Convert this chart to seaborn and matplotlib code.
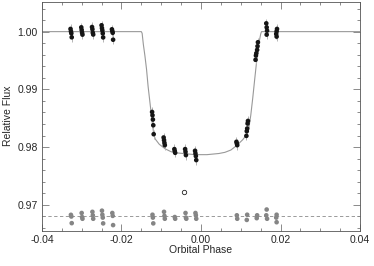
import matplotlib
matplotlib.use("Agg")
import matplotlib.pyplot as plt
import pandas as pd
import seaborn as sns
from matplotlib.ticker import MultipleLocator

# Light curve points (orbital phase, relative flux)
phase = [
    -0.0328, -0.0327, -0.0326, -0.0325,
    -0.0301, -0.0300, -0.0299, -0.0298,
    -0.0274, -0.0273, -0.0272, -0.0271,
    -0.0250, -0.0249, -0.0248, -0.0247, -0.0246,
    -0.0224, -0.0223, -0.0222, -0.0221,
    -0.0123, -0.0122, -0.0121, -0.0120, -0.0119,
    -0.0094, -0.0093, -0.0092, -0.0091,
    -0.0067, -0.0066, -0.0065,
    -0.0040, -0.0039, -0.0038,
    -0.0015, -0.0014, -0.0013, -0.0012,
    0.0089, 0.0090, 0.0091,
    0.0118, 0.0117, 0.0116, 0.0115, 0.0114,
    0.0143, 0.0142, 0.0141, 0.0139, 0.0138, 0.0137,
    0.0164, 0.0165, 0.0166, 0.0165,
    0.0191, 0.0190, 0.0189, 0.0190,
]
flux = [
    1.00047, 1.00005, 0.99971, 0.99902,
    1.00074, 1.00029, 0.99983, 0.99948,
    1.00080, 1.00040, 0.99980, 0.99950,
    1.00110, 1.00060, 1.00020, 0.99970, 0.99900,
    1.00040, 1.00010, 0.99980, 0.99860,
    0.98609, 0.98552, 0.98478, 0.98379, 0.98224,
    0.98167, 0.98121, 0.98075, 0.98034,
    0.97966, 0.97931, 0.97902,
    0.97966, 0.97920, 0.97862,
    0.97937, 0.97891, 0.97845, 0.97776,
    0.98092, 0.98063, 0.98034,
    0.98454, 0.98409, 0.98322, 0.98276, 0.98195,
    0.99816, 0.99747, 0.99684, 0.99626, 0.99586, 0.99512,
    1.00143, 1.00074, 1.00017, 0.99948,
    1.00047, 1.00005, 0.99960, 0.99914,
]
flux_err = 0.0008

# Residuals, offset to 0.968
res_phase = [
    -0.0327, -0.0326, -0.0325,
    -0.0300, -0.0299, -0.0298,
    -0.0273, -0.0272, -0.0271,
    -0.0249, -0.0248, -0.0247, -0.0246,
    -0.0223, -0.0222, -0.0221,
    -0.0122, -0.0121, -0.0120,
    -0.0093, -0.0092, -0.0091,
    -0.0066, -0.0065,
    -0.0039, -0.0038, -0.0037,
    -0.0014, -0.0013, -0.0012,
    0.0090, 0.0091,
    0.0116, 0.0115,
    0.0141, 0.0140,
    0.0165, 0.0164, 0.0166,
    0.0190, 0.0189, 0.0190,
]
res_flux = [
    0.96828, 0.96799, 0.96684,
    0.96860, 0.96790, 0.96760,
    0.96880, 0.96820, 0.96760,
    0.96900, 0.96830, 0.96780, 0.96680,
    0.96860, 0.96810, 0.96650,
    0.96830, 0.96780, 0.96680,
    0.96880, 0.96810, 0.96760,
    0.96790, 0.96760,
    0.96860, 0.96780, 0.96760,
    0.96860, 0.96820, 0.96760,
    0.96820, 0.96760,
    0.96830, 0.96740,
    0.96820, 0.96770,
    0.96920, 0.96820, 0.96760,
    0.96830, 0.96780, 0.96700,
]
res_level = 0.968

# Rejected point
out_phase = [-0.0042]
out_flux = [0.9722]

# Transit model
model_phase = [-0.040, -0.0150, -0.0148, -0.0145, -0.0141, -0.0137, -0.0133,
               -0.0128, -0.0123, -0.0119, -0.0115, -0.0105, -0.0090, -0.0075,
               -0.0060, -0.0045, -0.0030, -0.0015, 0.0000, 0.0015, 0.0030,
               0.0045, 0.0060, 0.0075, 0.0090, 0.0105, 0.0115, 0.0120,
               0.0125, 0.0130, 0.0135, 0.0140, 0.0145, 0.0150, 0.0152, 0.040]
model_flux = [1.0000, 1.0000, 0.9997, 0.9978, 0.9958, 0.9935, 0.9905,
              0.9875, 0.9845, 0.9823, 0.9814, 0.9805, 0.9797, 0.9792,
              0.9790, 0.9789, 0.9788, 0.9787, 0.9787, 0.9787, 0.9788,
              0.9789, 0.9791, 0.9795, 0.9803, 0.9813, 0.9822, 0.9832,
              0.9855, 0.9885, 0.9918, 0.9950, 0.9978, 0.9996, 1.0000, 1.0000]

df = pd.DataFrame({"phase": phase, "flux": flux})
res = pd.DataFrame({"phase": res_phase, "flux": res_flux})
model = pd.DataFrame({"phase": model_phase, "flux": model_flux})

sns.set_style("ticks")
plt.rcParams["font.family"] = ["Liberation Sans", "DejaVu Sans"]
plt.rcParams["font.size"] = 7.5

fig = plt.figure(figsize=(3.74, 2.66), dpi=100)
ax = fig.add_axes([0.112, 0.132, 0.851, 0.862])

sns.lineplot(data=model, x="phase", y="flux", color="#999999", lw=0.8,
             sort=False, ax=ax, zorder=2)
ax.axhline(res_level, color="#8a8a8a", lw=0.6, ls=(0, (4, 3)), zorder=1)

ax.errorbar(df["phase"], df["flux"], yerr=flux_err, fmt="none",
            ecolor="#b5b5b5", elinewidth=0.7, zorder=3)
sns.scatterplot(data=df, x="phase", y="flux", color="#151515", s=11,
                edgecolor="none", ax=ax, zorder=4)
sns.scatterplot(data=res, x="phase", y="flux", color="#858585", s=11,
                edgecolor="none", ax=ax, zorder=4)
ax.scatter(out_phase, out_flux, s=10, facecolor="white", edgecolor="#222222",
           linewidths=0.6, zorder=4)

ax.set_xlim(-0.04, 0.04)
ax.set_ylim(0.9655, 1.0052)
ax.xaxis.set_minor_locator(MultipleLocator(0.005))
ax.yaxis.set_minor_locator(MultipleLocator(0.002))
ax.set_xticks([-0.04, -0.02, 0.0, 0.02, 0.04])
ax.set_xticklabels(["-0.04", "-0.02", "0.00", "0.02", "0.04"])
ax.set_yticks([0.97, 0.98, 0.99, 1.00])
ax.set_yticklabels(["0.97", "0.98", "0.99", "1.00"])
ax.tick_params(which="both", direction="in", top=True, right=True,
               color="#777777", width=0.6, labelsize=7.5, pad=3)
ax.tick_params(which="major", length=5)
ax.tick_params(which="minor", length=2.5)
for sp in ax.spines.values():
    sp.set_color("#555555")
    sp.set_linewidth(0.6)

ax.set_xlabel("Orbital Phase", fontsize=7.5, labelpad=0)
ax.set_ylabel("Relative Flux", fontsize=7.5, labelpad=3)

fig.savefig("out.png", dpi=100)
